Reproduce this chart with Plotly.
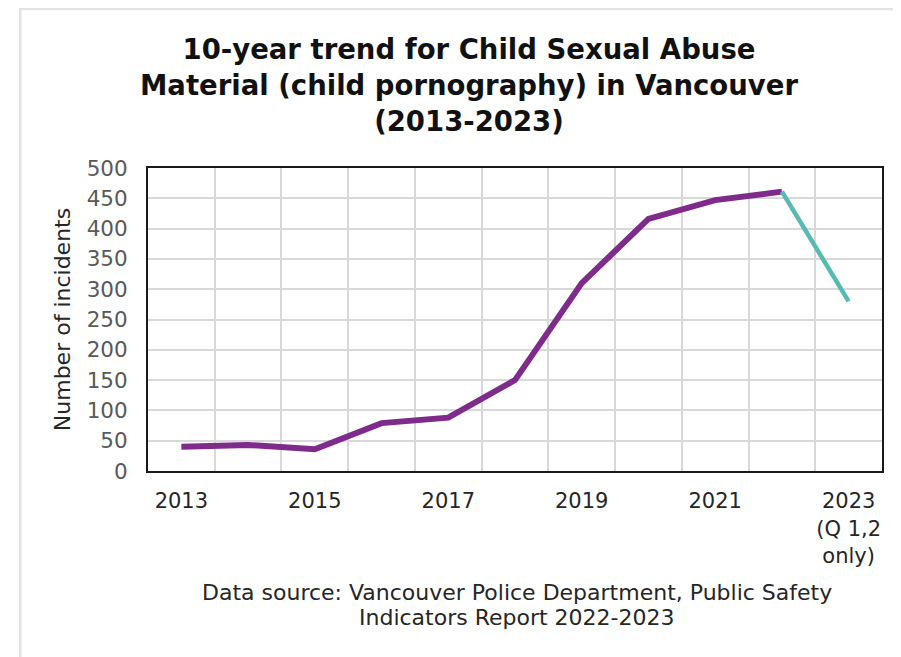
import plotly.graph_objects as go

# Data
years = ["2013", "2014", "2015", "2016", "2017", "2018", "2019", "2020", "2021", "2022", "2023"]
incidents = [40, 43, 36, 79, 88, 150, 310, 416, 447, 461, 280]
tick_labels = ["2013", "", "2015", "", "2017", "", "2019", "", "2021", "", "2023<br>(Q 1,2<br>only)"]
source_lines = ["Data source: Vancouver Police Department, Public Safety",
                "Indicators Report 2022-2023"]

purple = "#7E2B8C"
teal = "#58BBB3"
font_main = "DejaVu Sans"

fig = go.Figure()

# full years (purple) and partial 2023 segment (teal)
fig.add_trace(go.Scatter(x=years[:10], y=incidents[:10], mode="lines",
                         line=dict(color=purple, width=6), hoverinfo="x+y"))
fig.add_trace(go.Scatter(x=years[9:], y=incidents[9:], mode="lines",
                         line=dict(color=teal, width=4.5), hoverinfo="x+y"))

# page body has an 8px margin, so the figure is a little smaller than the window
fig.update_layout(
    width=893, height=649,
    margin=dict(l=140, r=19, t=160, b=186),
    paper_bgcolor="white", plot_bgcolor="white",
    showlegend=False,
    font=dict(family=font_main, color="#262626"),
)

fig.update_xaxes(
    type="category", categoryorder="array", categoryarray=years,
    range=[-0.5, 10.5],
    tickmode="array", tickvals=years, ticktext=tick_labels,
    tickson="boundaries", ticks="", tickangle=0,
    showgrid=True, gridcolor="#d9d9d9", gridwidth=2,
    showline=True, linecolor="#1a1a1a", linewidth=2, mirror=True,
    tickfont=dict(size=21, color="#262626"), ticklabelstandoff=10,
)
fig.update_yaxes(
    range=[0, 500], dtick=50, ticks="",
    showgrid=True, gridcolor="#d9d9d9", gridwidth=2,
    showline=True, linecolor="#1a1a1a", linewidth=2, mirror=True,
    tickfont=dict(size=21.5, color="#595959"), ticklabelstandoff=14,
    title=dict(text="Number of incidents", font=dict(size=22, color="#262626"), standoff=10),
    zeroline=False,
)

# title
fig.add_annotation(text="<b>10-year trend for Child Sexual Abuse<br>Material (child pornography) in Vancouver<br>(2013-2023)</b>",
                   xref="paper", yref="paper", x=0.437, y=1.452, xanchor="center", yanchor="top",
                   showarrow=False, font=dict(size=27.5, color="#111111", family=font_main))

# data source note, one annotation per line to keep the tight line spacing
for i, line in enumerate(source_lines):
    fig.add_annotation(text=line, xref="paper", yref="paper",
                       x=0.503, y=-(592 + 25 * i - 471) / 303, xanchor="center", yanchor="middle",
                       showarrow=False, font=dict(size=22, color="#262626"))

# faint frame around the graphic
fig.add_shape(type="rect", xref="paper", yref="paper", x0=-0.174, x1=1.2, y0=-1.0, y1=1.525,
              line=dict(color="#e3e3e3", width=2.5))

fig.write_html("out.html")
